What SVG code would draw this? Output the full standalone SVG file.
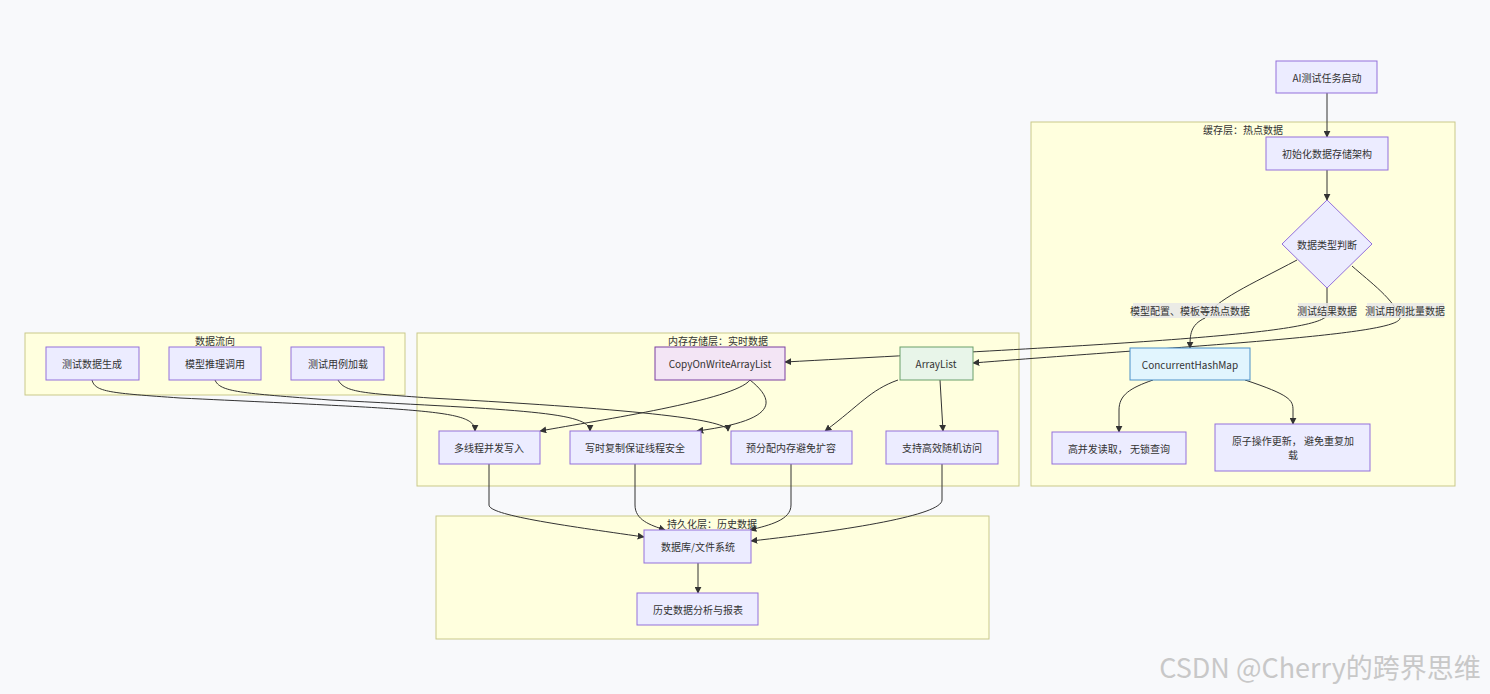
<svg xmlns="http://www.w3.org/2000/svg" width="1490" height="694" viewBox="0 0 1490 694">
<defs>
<marker id="ah" viewBox="0 0 10 10" refX="9" refY="5" markerWidth="7" markerHeight="7" orient="auto"><path d="M0,0L10,5L0,10z" fill="#333"/></marker>
<style>
text{font-family:"Noto Sans CJK SC","Noto Sans",sans-serif;font-size:10px;fill:#333;text-anchor:middle;dominant-baseline:central}
.cl{fill:#ffffde;stroke:#c9c98a;stroke-width:1}
.n{fill:#ececff;stroke:#9370db;stroke-width:1}
.e{fill:none;stroke:#333;stroke-width:1;marker-end:url(#ah)}
.lb{fill:#e8e8e8;opacity:0.85}
</style>
</defs>
<rect width="1490" height="694" fill="#f8f9fb"/>
<g id="clusters">
<rect class="cl" x="1031" y="122" width="424" height="364"/><text x="1243" y="129">缓存层：热点数据</text>
<rect class="cl" x="25" y="333" width="380" height="62"/><text x="215" y="340">数据流向</text>
<rect class="cl" x="417" y="333" width="602" height="153"/><text x="718" y="340">内存存储层：实时数据</text>
<rect class="cl" x="436" y="516" width="553" height="123"/><text x="712" y="523">持久化层：历史数据</text>
</g>
<g id="connectors">
<path class="e" d="M1327,93V137"/>
<path class="e" d="M1327,170V200"/>
<path class="e" d="M1297,260C1250,285 1215,300 1205,318C1190,325 1190,335 1190,348"/>
<path class="e" d="M1327,288V315C1320,335 1100,345 785,362"/>
<path class="e" d="M1352,266C1370,282 1395,300 1400,318C1400,335 1200,345 973,363"/>
<path class="e" d="M1153,380C1130,388 1119,395 1119,410V432"/>
<path class="e" d="M1245,380C1290,395 1293,400 1293,410V424"/>
<path class="e" d="M750,380C735,400 600,420 540,431"/>
<path class="e" d="M750,380C775,400 780,420 697,431"/>
<path class="e" d="M898,380C870,390 860,405 825,431"/>
<path class="e" d="M940,380L943,431"/>
<path class="e" d="M92,380C95,392 110,393 180,398C430,410 475,410 475,431"/>
<path class="e" d="M215,380C220,392 240,393 330,400C520,410 590,412 590,431"/>
<path class="e" d="M338,380C345,392 360,393 430,398C650,410 728,420 728,431"/>
<path class="e" d="M489,464V505C489,515 560,525 644,537"/>
<path class="e" d="M635,464V505C635,520 650,525 665,530"/>
<path class="e" d="M791,464V505C791,520 770,525 750,530"/>
<path class="e" d="M942,464V500C942,515 850,530 751,541"/>
<path class="e" d="M698,563V593"/>
</g>
<g id="edge-labels">
<rect class="lb" x="1133" y="303" width="114" height="15"/><text x="1190" y="310">模型配置、模板等热点数据</text>
<rect class="lb" x="1298" y="303" width="58" height="15"/><text x="1327" y="310">测试结果数据</text>
<rect class="lb" x="1367" y="303" width="77" height="15"/><text x="1405" y="310">测试用例批量数据</text>
</g>
<g id="n-ai"><rect class="n" x="1276" y="61" width="101" height="32"/><text x="1327" y="77">AI测试任务启动</text></g>
<g id="n-init"><rect class="n" x="1266" y="137" width="122" height="33"/><text x="1327" y="153">初始化数据存储架构</text></g>
<g id="n-judge"><polygon class="n" points="1327,200 1372,244 1327,288 1282,244"/><text x="1327" y="244">数据类型判断</text></g>
<g id="n-chm"><rect x="1130" y="348" width="120" height="32" fill="#e1f5fe" stroke="#4a90c8"/><text x="1190" y="364">ConcurrentHashMap</text></g>
<g id="n-read"><rect class="n" x="1052" y="432" width="134" height="32"/><text x="1119" y="448">高并发读取， 无锁查询</text></g>
<g id="n-atomic"><rect class="n" x="1215" y="424" width="155" height="47"/><text x="1293" y="440">原子操作更新， 避免重复加</text><text x="1293" y="454">载</text></g>
<g id="n-gen"><rect class="n" x="46" y="347" width="93" height="33"/><text x="92" y="363">测试数据生成</text></g>
<g id="n-infer"><rect class="n" x="169" y="347" width="92" height="33"/><text x="215" y="363">模型推理调用</text></g>
<g id="n-load"><rect class="n" x="291" y="347" width="93" height="33"/><text x="338" y="363">测试用例加载</text></g>
<g id="n-cow"><rect x="655" y="347" width="130" height="33" fill="#f3e5f5" stroke="#7b3fa0"/><text x="720" y="363">CopyOnWriteArrayList</text></g>
<g id="n-al"><rect x="900" y="347" width="73" height="33" fill="#e8f5e9" stroke="#6a9f6a"/><text x="936" y="363">ArrayList</text></g>
<g id="n-mt"><rect class="n" x="439" y="431" width="101" height="33"/><text x="489" y="447">多线程并发写入</text></g>
<g id="n-cw"><rect class="n" x="570" y="431" width="131" height="33"/><text x="635" y="447">写时复制保证线程安全</text></g>
<g id="n-pre"><rect class="n" x="731" y="431" width="121" height="33"/><text x="791" y="447">预分配内存避免扩容</text></g>
<g id="n-rand"><rect class="n" x="886" y="431" width="112" height="33"/><text x="942" y="447">支持高效随机访问</text></g>
<g id="n-db"><rect class="n" x="644" y="530" width="107" height="33"/><text x="698" y="546">数据库/文件系统</text></g>
<g id="n-hist"><rect class="n" x="637" y="593" width="121" height="32"/><text x="698" y="609">历史数据分析与报表</text></g>
<text x="1320" y="666" style="font-size:27px;fill:#c8c8c8;text-anchor:middle">CSDN @Cherry的跨界思维</text>
</svg>
